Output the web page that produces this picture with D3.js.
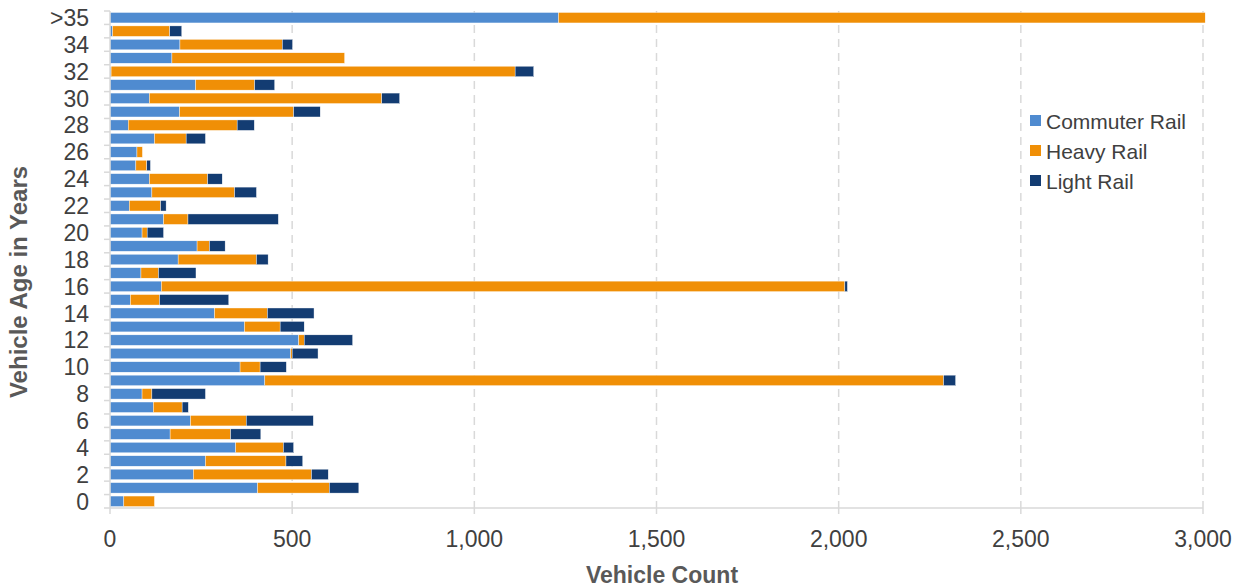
<!DOCTYPE html>
<html lang="en">
<head>
    <meta charset="UTF-8">
    <title>Vehicle Age by Mode</title>
    <script src="https://d3js.org/d3.v7.min.js"></script>
    <style>
        body { margin: 0; background: #fff; }
        text { font-family: "Liberation Sans", Arial, sans-serif; }
    </style>
</head>
<body>

<div id="chart"></div>

<script>
    // Age categories, bottom (0) to top (>35)
    const ages = ["0","1","2","3","4","5","6","7","8","9","10","11","12","13","14","15","16","17",
                  "18","19","20","21","22","23","24","25","26","27","28","29","30","31","32","33","34","35",">35"];

    // Vehicle counts, same order as ages
    const commuterRail = [38, 405, 229, 262, 345, 165, 221, 119, 88, 425, 357, 496, 518, 369, 287, 56, 141, 85,
                          187, 239, 88, 147, 53, 115, 108, 71, 74, 122, 50, 191, 108, 235, 3, 170, 192, 7, 1231];
    const heavyRail    = [84, 197, 324, 221, 131, 166, 153, 79, 27, 1863, 55, 4, 15, 98, 145, 80, 1876, 48,
                          215, 34, 14, 67, 86, 227, 160, 30, 15, 87, 299, 313, 638, 162, 1109, 474, 281, 157, 1775];
    const lightRail    = [0, 81, 46, 46, 28, 83, 184, 17, 147, 33, 72, 71, 133, 66, 128, 190, 7, 103,
                          32, 43, 45, 248, 15, 60, 40, 10, 0, 53, 47, 73, 49, 55, 51, 0, 28, 33, 0];

    const seriesNames = ["Commuter Rail", "Heavy Rail", "Light Rail"];
    const seriesColors = ["#4f8bd0", "#f08f06", "#133c72"];
    const xTicks = [0, 500, 1000, 1500, 2000, 2500, 3000];
    const yLabels = ["0","2","4","6","8","10","12","14","16","18","20","22","24","26","28","30","32","34",">35"];

    const width = 1246, height = 587;
    const margin = { top: 11, right: 43, bottom: 79, left: 110 };
    const innerW = width - margin.left - margin.right;
    const innerH = height - margin.top - margin.bottom;

    const rows = ages.map((a, i) => ({
        age: a,
        "Commuter Rail": commuterRail[i],
        "Heavy Rail": heavyRail[i],
        "Light Rail": lightRail[i]
    }));

    const stacked = d3.stack().keys(seriesNames)(rows);

    const x = d3.scaleLinear().domain([0, 3000]).range([0, innerW]);
    const y = d3.scaleBand().domain(ages.slice().reverse()).range([0, innerH]).paddingInner(0.22).paddingOuter(0.11);
    const color = d3.scaleOrdinal().domain(seriesNames).range(seriesColors);

    const svg = d3.select("#chart").append("svg")
        .attr("width", width)
        .attr("height", height);

    const g = svg.append("g").attr("transform", `translate(${margin.left},${margin.top})`);

    // dashed vertical gridlines
    g.selectAll(".grid")
        .data(xTicks.slice(1))
        .enter().append("line")
        .attr("x1", d => x(d)).attr("x2", d => x(d))
        .attr("y1", 0).attr("y2", innerH)
        .attr("stroke", "#d9d9d9")
        .attr("stroke-width", 1.5)
        .attr("stroke-dasharray", "8,6");

    // bars
    g.selectAll(".series")
        .data(stacked)
        .enter().append("g")
        .attr("fill", d => color(d.key))
        .selectAll("rect")
        .data(d => d)
        .enter().append("rect")
        .attr("x", d => x(d[0]))
        .attr("y", d => y(d.data.age))
        .attr("width", d => Math.max(0, x(d[1]) - x(d[0])))
        .attr("height", y.bandwidth())
        .attr("stroke", "#fff")
        .attr("stroke-width", 0.4);

    // left axis: line + ticks at band edges
    const edges = d3.range(ages.length + 1).map(i => i * innerH / ages.length);
    g.append("line")
        .attr("x1", 0).attr("x2", 0).attr("y1", 0).attr("y2", innerH)
        .attr("stroke", "#d9d9d9").attr("stroke-width", 1.5);
    g.selectAll(".ytick")
        .data(edges)
        .enter().append("line")
        .attr("x1", -6).attr("x2", 0)
        .attr("y1", d => d).attr("y2", d => d)
        .attr("stroke", "#d9d9d9").attr("stroke-width", 1.5);

    g.selectAll(".ylabel")
        .data(yLabels)
        .enter().append("text")
        .attr("x", -21)
        .attr("y", d => y(d) + y.bandwidth() / 2)
        .attr("dy", "0.36em")
        .attr("text-anchor", "end")
        .attr("fill", "#404040")
        .style("font-size", "23px")
        .text(d => d);

    // bottom axis
    g.append("line")
        .attr("x1", 0).attr("x2", innerW).attr("y1", innerH).attr("y2", innerH)
        .attr("stroke", "#d9d9d9").attr("stroke-width", 1.5);
    g.selectAll(".xtick")
        .data(xTicks)
        .enter().append("line")
        .attr("x1", d => x(d)).attr("x2", d => x(d))
        .attr("y1", innerH).attr("y2", innerH + 6)
        .attr("stroke", "#d9d9d9").attr("stroke-width", 1.5);
    g.selectAll(".xlabel")
        .data(xTicks)
        .enter().append("text")
        .attr("x", d => x(d))
        .attr("y", innerH + 39)
        .attr("text-anchor", "middle")
        .attr("fill", "#404040")
        .style("font-size", "23px")
        .text(d => d3.format(",")(d));

    // axis titles
    svg.append("text")
        .attr("x", 662)
        .attr("y", 583)
        .attr("text-anchor", "middle")
        .attr("fill", "#595959")
        .style("font-size", "23px")
        .style("font-weight", "bold")
        .text("Vehicle Count");

    svg.append("text")
        .attr("transform", "translate(27,282) rotate(-90)")
        .attr("text-anchor", "middle")
        .attr("fill", "#595959")
        .style("font-size", "24px")
        .style("font-weight", "bold")
        .text("Vehicle Age in Years");

    // legend
    const legend = svg.append("g").attr("transform", "translate(1030,115)");
    const item = legend.selectAll(".item")
        .data(seriesNames)
        .enter().append("g")
        .attr("transform", (d, i) => `translate(0,${i * 30})`);
    item.append("rect")
        .attr("width", 11).attr("height", 11)
        .attr("fill", d => color(d));
    item.append("text")
        .attr("x", 16)
        .attr("y", 6)
        .attr("dy", "0.36em")
        .attr("fill", "#404040")
        .style("font-size", "21px")
        .text(d => d);
</script>

</body>
</html>
